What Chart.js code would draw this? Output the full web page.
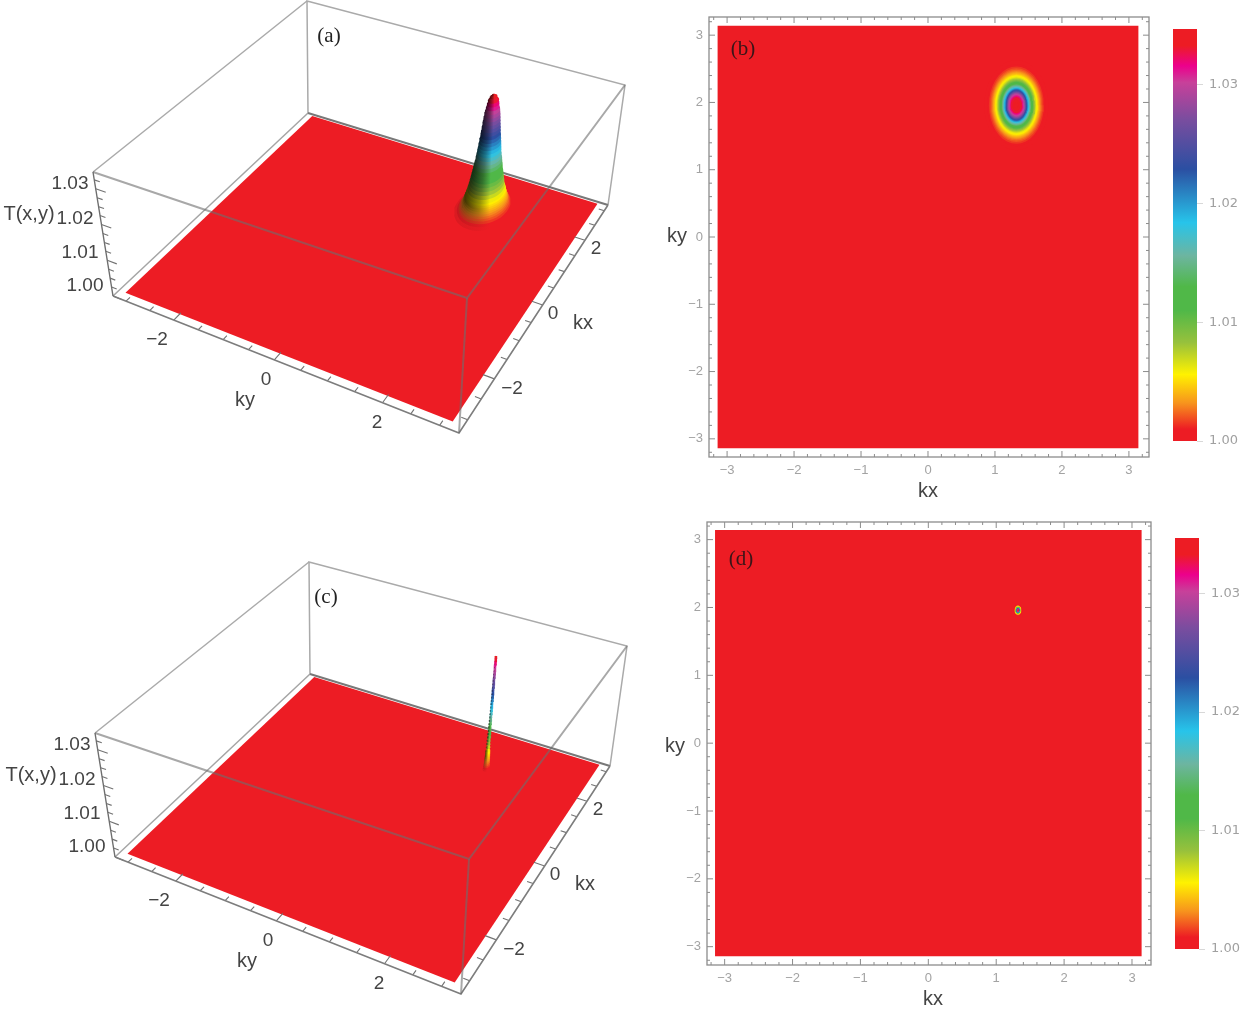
<!DOCTYPE html>
<html>
<head>
<meta charset="utf-8">
<title>T(x,y)</title>
<script src="https://cdn.jsdelivr.net/npm/chart.js@4/dist/chart.umd.min.js"></script>
<style>
  html, body { margin: 0; background: #fff; overflow: hidden; }
  #page { position: relative; width: 1242px; height: 1009px; filter: blur(0.6px); }
  canvas { position: absolute; }
</style>
</head>
<body>
<div id="page">
  <canvas id="panelA"></canvas>
  <canvas id="panelB"></canvas>
  <canvas id="barB"></canvas>
  <canvas id="panelC"></canvas>
  <canvas id="panelD"></canvas>
  <canvas id="barD"></canvas>
</div>
<script>
// axis ticks
const kTicks = [-3, -2, -1, 0, 1, 2, 3];
const barTicks = [1.00, 1.01, 1.02, 1.03];
const floorLabels = ['\u22122', '0', '2'];
const heightLabels = ['1.03', '1.02', '1.01', '1.00'];

// ranges
const surfaceRange = [-Math.PI, Math.PI];
const boxKx = [-3.31, 3.2];
const boxKy = [-3.28, 3.33];
const tRange = [1.0, 1.0347];

// colour bar, read from top to bottom in (b)
const colorT = [1.000, 1.001, 1.0032, 1.0056, 1.0083, 1.011, 1.013, 1.0156, 1.0184, 1.0229, 1.0271, 1.0302, 1.0316, 1.0333, 1.0347];
const colorHex = ['#ed1c24', '#ed1c24', '#f7941d', '#fff200', '#97c13c', '#50b848', '#50b848', '#6db5a0', '#27c4ea', '#2b4fa2', '#7a4d9f', '#c8409a', '#ec008c', '#ed1c24', '#ed1c24'];

// contour rings of the peak: level, half width along kx and ky in (b)
const ringT = [1.0005, 1.001, 1.0015, 1.002, 1.0025, 1.003, 1.0035, 1.004, 1.0045, 1.005, 1.0055, 1.006, 1.007, 1.008, 1.009, 1.010, 1.011, 1.012, 1.013, 1.014, 1.015, 1.016, 1.017, 1.018, 1.019, 1.020, 1.021, 1.022, 1.023, 1.024, 1.025, 1.026, 1.027, 1.028, 1.029, 1.030, 1.031, 1.032, 1.033, 1.034, 1.0345];
const ringRx = [0.478, 0.436, 0.411, 0.392, 0.376, 0.363, 0.351, 0.341, 0.331, 0.322, 0.314, 0.307, 0.293, 0.280, 0.269, 0.258, 0.248, 0.238, 0.229, 0.220, 0.212, 0.203, 0.195, 0.187, 0.181, 0.175, 0.168, 0.160, 0.155, 0.150, 0.145, 0.140, 0.135, 0.130, 0.125, 0.115, 0.105, 0.095, 0.085, 0.060, 0.030];
const ringRy = [0.669, 0.611, 0.575, 0.549, 0.527, 0.508, 0.492, 0.477, 0.464, 0.452, 0.440, 0.430, 0.410, 0.393, 0.377, 0.362, 0.347, 0.334, 0.321, 0.309, 0.297, 0.285, 0.273, 0.262, 0.256, 0.250, 0.240, 0.235, 0.225, 0.220, 0.210, 0.200, 0.195, 0.185, 0.175, 0.165, 0.150, 0.135, 0.120, 0.085, 0.040];

// peak centres: (kx, ky) as read in the contour plots and in the surface plots
const peakFlat = [1.32, 1.96];
const peakSurface = [1.96, 1.33];
// the surface plots top out a little under the box lid
const peakHeight = 0.96;

// view of the surface plots: screen position of the box corners
const view = {
  bottom: [[113, 296], [308, 113], [608, 205], [459, 433]],
  top: [[93, 172], [307, 1], [625, 85], [467, 298]]
};

function homography(q) {
  const [[x0, y0], [x1, y1], [x2, y2], [x3, y3]] = q;
  const dx1 = x1 - x2, dx2 = x3 - x2, sx = x0 - x1 + x2 - x3;
  const dy1 = y1 - y2, dy2 = y3 - y2, sy = y0 - y1 + y2 - y3;
  const den = dx1 * dy2 - dx2 * dy1;
  const g = (sx * dy2 - dx2 * sy) / den;
  const h = (dx1 * sy - sx * dy1) / den;
  return (u, v) => {
    const w = g * u + h * v + 1;
    return [((x1 - x0 + g * x1) * u + (x3 - x0 + h * x3) * v + x0) / w,
            ((y1 - y0 + g * y1) * u + (y3 - y0 + h * y3) * v + y0) / w];
  };
}
const bottomMap = homography(view.bottom);
const topMap = homography(view.top);

// (kx, ky, T) -> position on the hidden screen scales
function project(kx, ky, t) {
  const u = (kx - boxKx[0]) / (boxKx[1] - boxKx[0]);
  const v = (ky - boxKy[0]) / (boxKy[1] - boxKy[0]);
  const a = bottomMap(u, v), b = topMap(u, v);
  const f = (t - tRange[0]) / (tRange[1] - tRange[0]);
  return { x: a[0] + (b[0] - a[0]) * f, y: a[1] + (b[1] - a[1]) * f };
}
function peakLevel(t) {
  return tRange[0] + (t - tRange[0]) * peakHeight;
}

function hexRgb(h) {
  return [1, 3, 5].map(i => parseInt(h.substr(i, 2), 16));
}
function rgb(c) {
  return 'rgb(' + c.map(Math.round).join(',') + ')';
}
function mix(c, other, f) {
  return c.map((v, i) => v + (other[i] - v) * f);
}
function colorAt(t) {
  for (let i = 1; i < colorT.length; i++) {
    if (t <= colorT[i]) {
      const f = (t - colorT[i - 1]) / (colorT[i] - colorT[i - 1]);
      return mix(hexRgb(colorHex[i - 1]), hexRgb(colorHex[i]), f);
    }
  }
  return hexRgb(colorHex[colorHex.length - 1]);
}

function polygon(points, fill, extra) {
  return Object.assign({
    data: points, showLine: true, fill: 'shape', backgroundColor: fill,
    borderWidth: 0, pointRadius: 0, tension: 0
  }, extra || {});
}
function lines(points, color, width) {
  return { data: points, showLine: true, fill: false, borderColor: color,
    borderWidth: width, pointRadius: 0, tension: 0, spanGaps: false };
}

// left side of each slice is darker, like the lit surface
function shadedFill(t) {
  const base = colorAt(t);
  const dark = Math.min(0.75, (t - 1) * 170);
  return ctx => {
    const chart = ctx.chart;
    const xs = chart.data.datasets[ctx.datasetIndex].data.map(p => chart.scales.x.getPixelForValue(p.x));
    const x0 = Math.min(...xs), x1 = Math.max(...xs);
    if (!isFinite(x0) || !isFinite(x1)) return rgb(base);
    const g = chart.ctx.createLinearGradient(x0, 0, x1, 0);
    g.addColorStop(0, rgb(mix(base, [0, 0, 0], dark)));
    g.addColorStop(0.35, rgb(mix(base, [0, 0, 0], dark * 0.5)));
    g.addColorStop(0.6, rgb(base));
    g.addColorStop(1, rgb(base));
    return g;
  };
}

// draws text items and plot frames on top of the datasets
const panelText = {
  id: 'panelText',
  afterDraw(chart, args, opts) {
    const ctx = chart.ctx;
    ctx.save();
    ctx.textAlign = 'center';
    ctx.textBaseline = 'middle';
    (opts.items || []).forEach(it => {
      ctx.font = it.font;
      ctx.fillStyle = it.color;
      ctx.fillText(it.text, it.x, it.y);
    });
    ctx.restore();
  }
};
const frameTicks = {
  id: 'frameTicks',
  afterDatasetsDraw(chart, args, opts) {
    if (!opts.on) return;
    const { ctx, chartArea: a, scales: { x, y } } = chart;
    ctx.save();
    ctx.strokeStyle = '#8c8c8c';
    ctx.lineWidth = 1.3;
    ctx.strokeRect(a.left, a.top, a.right - a.left, a.bottom - a.top);
    ctx.lineWidth = 1;
    ctx.beginPath();
    for (let i = -16; i <= 16; i++) {
      const v = i / 5;
      const len = i % 5 === 0 ? 6 : 3;
      const px = x.getPixelForValue(v), py = y.getPixelForValue(v);
      ctx.moveTo(px, a.bottom); ctx.lineTo(px, a.bottom - len);
      ctx.moveTo(px, a.top); ctx.lineTo(px, a.top + len);
      ctx.moveTo(a.left, py); ctx.lineTo(a.left + len, py);
      ctx.moveTo(a.right, py); ctx.lineTo(a.right - len, py);
    }
    ctx.stroke();
    ctx.restore();
  }
};
Chart.register(panelText, frameTicks);

const numberFont = '19px "Liberation Sans"';
const labelFont = '20px "Liberation Sans"';
const labelColor = '#444';
const panelFont = '21px "Liberation Serif"';

function surfacePanel(id, left, top, widthFactor, tag, tagX, tagY) {
  const canvas = document.getElementById(id);
  canvas.style.left = left + 'px';
  canvas.style.top = top + 'px';
  const x0 = boxKx[0], x1 = boxKx[1], y0 = boxKy[0], y1 = boxKy[1], t0 = tRange[0], t1 = tRange[1];
  const gap = { x: null, y: null };
  const thin = widthFactor < 0.5;
  const datasets = [];

  // back edges, behind the surface
  datasets.push(lines([project(x1, y0, t1), project(x0, y0, t1)], 'rgb(170,170,170)', 1.5));
  datasets.push(lines([project(x1, y0, t0), project(x1, y0, t1), project(x1, y1, t1), project(x1, y1, t0)], 'rgb(170,170,170)', 1.5));
  datasets.push(lines([project(x0, y0, t0), project(x1, y0, t0)], 'rgb(165,165,165)', 1.5));
  datasets.push(lines([project(x1, y0, t0), project(x1, y1, t0)], 'rgb(120,120,120)', 2));

  // floor
  const s0 = surfaceRange[0], s1 = surfaceRange[1];
  datasets.push(polygon([project(s0, s0, t0), project(s1, s0, t0), project(s1, s1, t0), project(s0, s1, t0), project(s0, s0, t0)], colorHex[0]));

  // very thin peak: the spine keeps the slices joined
  if (thin) {
    const spine = lines(ringT.map(t => project(peakSurface[0], peakSurface[1], peakLevel(t))), '#000', 2.6);
    spine.segment = { borderColor: c => rgb(colorAt(ringT[c.p0DataIndex])) };
    datasets.push(spine);
  }

  // peak: slices from the foot up
  ringT.forEach((t, i) => {
    const pts = [];
    for (let a = 0; a <= 36; a++) {
      const th = a / 36 * 2 * Math.PI;
      // axes are exchanged compared with the contour plot
      pts.push(project(peakSurface[0] + ringRy[i] * widthFactor * Math.cos(th), peakSurface[1] + ringRx[i] * widthFactor * Math.sin(th), peakLevel(t)));
    }
    datasets.push(polygon(pts, shadedFill(t)));
  });

  // axis ticks along the front edges and the height edge
  const tickPts = [];
  for (let i = -6; i <= 6; i++) {
    const v = i / 2;
    const len = i % 4 === 0 ? 0.2 : 0.11;
    tickPts.push(project(x0, v, t0), project(x0 + len, v, t0), gap);
    tickPts.push(project(v, y1, t0), project(v, y1 - len, t0), gap);
  }
  for (let i = 0; i <= 13; i++) {
    const t = t0 + i * 0.0025;
    const len = i % 4 === 0 ? 0.2 : 0.11;
    tickPts.push(project(x0, y0, t), project(x0, y0 + len, t), gap);
  }
  datasets.push(lines(tickPts, 'rgb(115,115,115)', 1.1));

  // front edges, seen through over the surface
  datasets.push(lines([project(x0, y0, t0), project(x0, y1, t0), project(x1, y1, t0)], 'rgb(125,125,125)', 1.6));
  datasets.push(lines([project(x0, y0, t1), project(x0, y1, t1), project(x1, y1, t1)], 'rgba(110,110,110,0.6)', 2));
  datasets.push(lines([project(x0, y1, t0), project(x0, y1, t1)], 'rgba(110,110,110,0.6)', 2));
  datasets.push(lines([project(x0, y0, t0), project(x0, y0, t1)], 'rgb(110,110,110)', 1.4));

  datasets.forEach((d, i) => { d.order = -i; });

  const items = [
    { text: tag, x: tagX, y: tagY, font: panelFont, color: '#222' },
    { text: 'T(x,y)', x: 29, y: 214, font: labelFont, color: labelColor },
    { text: 'ky', x: 245, y: 400, font: labelFont, color: labelColor },
    { text: 'kx', x: 583, y: 323, font: labelFont, color: labelColor }
  ];
  [[70, 184], [75, 219], [80, 253], [85, 286]].forEach((p, i) => {
    items.push({ text: heightLabels[i], x: p[0], y: p[1], font: numberFont, color: labelColor });
  });
  [[157, 340], [266, 380], [377, 423]].forEach((p, i) => {
    items.push({ text: floorLabels[i], x: p[0], y: p[1], font: numberFont, color: labelColor });
  });
  [[512, 389], [553, 314], [596, 249]].forEach((p, i) => {
    items.push({ text: floorLabels[i], x: p[0], y: p[1], font: numberFont, color: labelColor });
  });

  return new Chart(canvas, {
    type: 'scatter',
    data: { datasets: datasets },
    options: {
      responsive: false,
      animation: false,
      events: [],
      layout: { padding: 0 },
      scales: {
        x: { display: false, min: 0, max: 640 },
        y: { display: false, min: 0, max: 448, reverse: true }
      },
      plugins: { legend: { display: false }, tooltip: { enabled: false }, panelText: { items: items } }
    }
  });
}

function contourPanel(id, frame, xMin, xMax, yMin, yMax, widthFactor, tag, tagPos, kxPos, kyPos) {
  const canvas = document.getElementById(id);
  const left = 650, top = frame.top - 17;
  canvas.style.left = left + 'px';
  canvas.style.top = top + 'px';
  canvas.width = 510;
  canvas.height = 510;
  const s0 = surfaceRange[0], s1 = surfaceRange[1];
  const datasets = [polygon([{ x: s0, y: s0 }, { x: s1, y: s0 }, { x: s1, y: s1 }, { x: s0, y: s1 }, { x: s0, y: s0 }], colorHex[0])];
  ringT.forEach((t, i) => {
    const pts = [];
    for (let a = 0; a <= 36; a++) {
      const th = a / 36 * 2 * Math.PI;
      pts.push({ x: peakFlat[0] + ringRx[i] * widthFactor * Math.cos(th), y: peakFlat[1] + ringRy[i] * widthFactor * Math.sin(th) });
    }
    datasets.push(polygon(pts, rgb(colorAt(t))));
  });
  datasets.forEach((d, i) => { d.order = -i; });

  const tickStyle = { color: '#a3a3a3', font: { family: 'Liberation Sans', size: 13 }, padding: 6, includeBounds: false,
    callback: v => (v < 0 ? '\u2212' + (-v) : '' + v) };
  const hiddenGrid = { display: false, drawTicks: false };
  return new Chart(canvas, {
    type: 'scatter',
    data: { datasets: datasets },
    options: {
      responsive: false,
      animation: false,
      events: [],
      layout: { padding: { left: frame.left - left - 30, right: 510 - (frame.right - left), top: frame.top - top, bottom: 510 - (frame.bottom - top) - 28 } },
      scales: {
        x: { min: xMin, max: xMax, grid: hiddenGrid, border: { display: false }, ticks: tickStyle,
          afterBuildTicks: s => { s.ticks = kTicks.map(v => ({ value: v })); },
          afterFit: s => { s.height = 28; } },
        y: { min: yMin, max: yMax, grid: hiddenGrid, border: { display: false }, ticks: tickStyle,
          afterBuildTicks: s => { s.ticks = kTicks.map(v => ({ value: v })); },
          afterFit: s => { s.width = 30; } }
      },
      plugins: {
        legend: { display: false }, tooltip: { enabled: false }, frameTicks: { on: true },
        panelText: { items: [
          { text: tag, x: tagPos[0] - left, y: tagPos[1] - top, font: panelFont, color: '#3a1518' },
          { text: 'kx', x: kxPos[0] - left, y: kxPos[1] - top, font: labelFont, color: labelColor },
          { text: 'ky', x: kyPos[0] - left, y: kyPos[1] - top, font: labelFont, color: labelColor }
        ] }
      }
    }
  });
}

function colorBar(id, left, barTop, barBottom) {
  const canvas = document.getElementById(id);
  const top = barTop - 20;
  canvas.style.left = left + 'px';
  canvas.style.top = top + 'px';
  canvas.width = 82;
  canvas.height = barBottom - top + 20;
  return new Chart(canvas, {
    type: 'bar',
    data: {
      labels: ['T'],
      datasets: [{
        data: [[tRange[0], tRange[1]]],
        barPercentage: 1,
        categoryPercentage: 1,
        backgroundColor: ctx => {
          const y = ctx.chart.scales.y;
          const p0 = y.getPixelForValue(tRange[0]), p1 = y.getPixelForValue(tRange[1]);
          if (!isFinite(p0) || !isFinite(p1)) return colorHex[0];
          const g = ctx.chart.ctx.createLinearGradient(0, p0, 0, p1);
          colorT.forEach((t, i) => g.addColorStop((t - tRange[0]) / (tRange[1] - tRange[0]), colorHex[i]));
          return g;
        }
      }]
    },
    options: {
      responsive: false,
      animation: false,
      events: [],
      layout: { padding: { left: 13, right: 0, top: 20, bottom: 20 } },
      scales: {
        x: { display: false },
        y: { position: 'right', min: tRange[0], max: tRange[1],
          grid: { drawOnChartArea: false, tickLength: 6, color: '#d8d8d8' }, border: { display: false },
          ticks: { color: '#a0a0a0', font: { family: 'DejaVu Sans', size: 13 }, padding: 6, includeBounds: false, callback: v => v.toFixed(2) },
          afterBuildTicks: s => { s.ticks = barTicks.map(v => ({ value: v })); },
          afterFit: s => { s.width = 45; } }
      },
      plugins: { legend: { display: false }, tooltip: { enabled: false } }
    }
  });
}

document.getElementById('panelA').width = 640;
document.getElementById('panelA').height = 448;
document.getElementById('panelC').width = 640;
document.getElementById('panelC').height = 448;

surfacePanel('panelA', 0, 0, 1.1, '(a)', 329, 36);
surfacePanel('panelC', 2, 561, 0.14, '(c)', 324, 36);
contourPanel('panelB', { left: 709, right: 1149, top: 17, bottom: 457 }, -3.27, 3.30, -3.27, 3.27, 1, '(b)', [743, 49], [928, 491], [677, 236]);
contourPanel('panelD', { left: 707, right: 1151, top: 522, bottom: 965 }, -3.26, 3.28, -3.27, 3.26, 0.13, '(d)', [741, 559], [933, 999], [675, 746]);
colorBar('barB', 1160, 29, 441);
colorBar('barD', 1162, 538, 949);
</script>
</body>
</html>
